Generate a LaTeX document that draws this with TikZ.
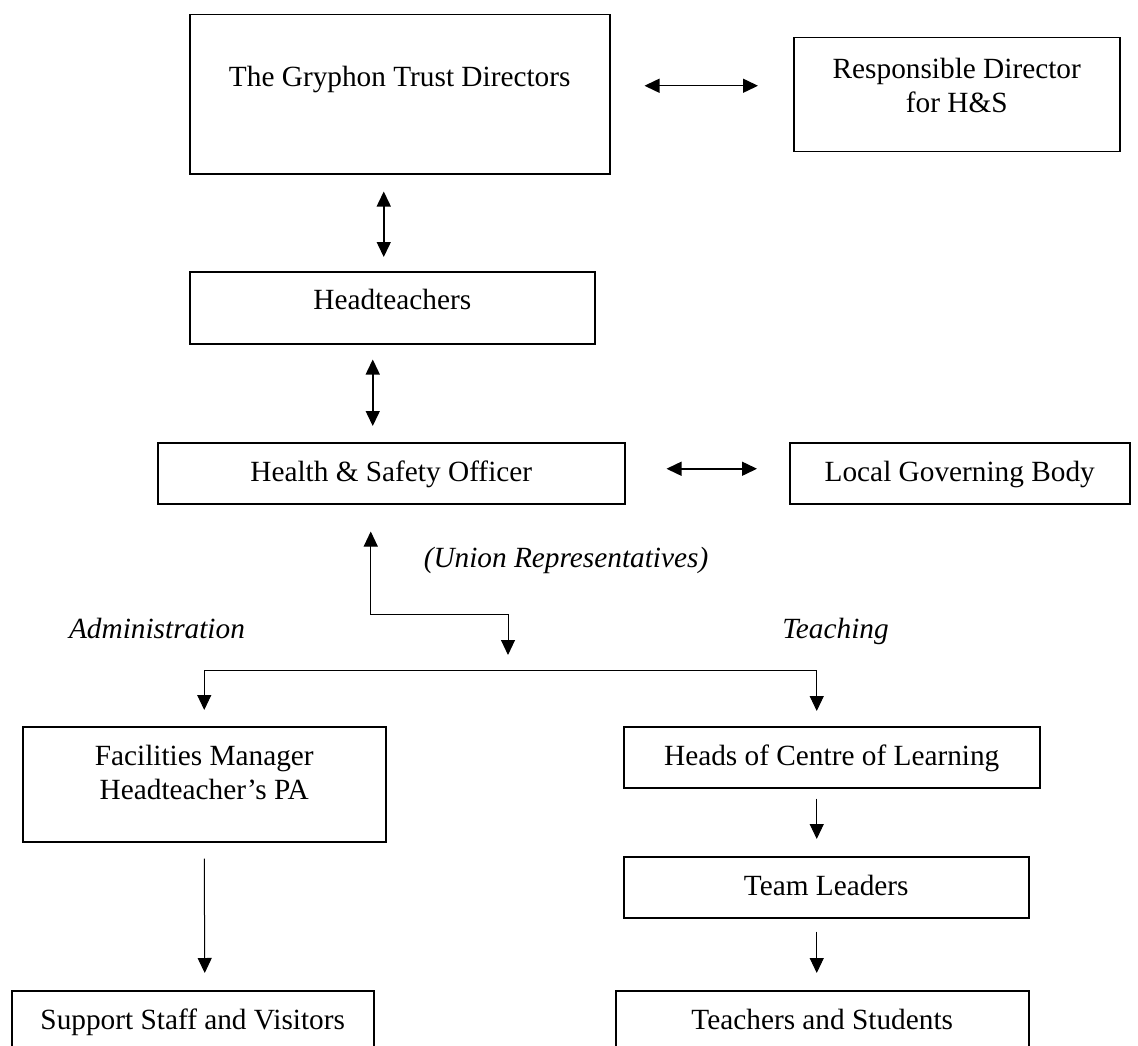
\documentclass[tikz,border=0pt]{standalone}
\usepackage{fontspec}
\setmainfont{Liberation Serif}
\usetikzlibrary{arrows.meta}
\newcommand\diagfont{\fontsize{29.3pt}{33.7pt}\selectfont}
\tikzset{
  box/.style={draw, line width=1.5pt, inner sep=0pt, anchor=north west, align=center, font=\diagfont},
  lab/.style={inner sep=0pt, font=\diagfont\itshape},
  tip/.tip={Triangle[length=15pt,width=14pt]},
  dbl/.style={line width=1.5pt, tip-tip},
  conn/.style={line width=1pt, -tip},
  dconn/.style={line width=1pt, tip-tip}
}
\begin{document}
\begin{tikzpicture}[x=1pt,y=-1pt]
\useasboundingbox (0,0) rectangle (1138,1046);
% boxes
\node[box, minimum width=420pt, text height=72pt, text depth=87pt] (gry) at (189,14) {The Gryphon Trust Directors};
\node[box, minimum width=326pt, text height=74.7pt, text depth=39.3pt] (resp) at (793,37) {Responsible Director\\for H\&S};
\node[box, minimum width=405pt, text height=38pt, text depth=34pt] (head) at (189,271) {Headteachers};
\node[box, minimum width=467pt, text height=39pt, text depth=22pt] (hs) at (157,442) {Health \& Safety Officer};
\node[box, minimum width=340pt, text height=39pt, text depth=22pt] (lgb) at (789,442) {Local Governing Body};
\node[box, minimum width=363pt, text height=72.7pt, text depth=42.3pt] (fac) at (22,726) {Facilities Manager\\Headteacher’s PA};
\node[box, minimum width=416pt, text height=39pt, text depth=22pt] (heads) at (623,726) {Heads of Centre of Learning};
\node[box, minimum width=405pt, text height=39pt, text depth=22pt] (team) at (623,856) {Team Leaders};
\node[box, minimum width=413pt, text height=39pt, text depth=17pt] (teach) at (615,990) {Teachers and Students};
\node[box, minimum width=362pt, text height=39pt, text depth=17pt] (sup) at (11,990) {Support Staff and Visitors};
% labels
\node[lab, anchor=base] (union) at (566,567) {(Union Representatives)};
\node[lab, anchor=base] (admin) at (157,638) {Administration};
\node[lab, anchor=base] (teachlab) at (835.5,638) {Teaching};
% connectors
\draw[dbl] ([xshift=34pt,yshift=8.5pt]gry.east) -- ([xshift=-35pt,yshift=9pt]resp.west);
\draw[dbl] ([xshift=-16pt,yshift=-17pt]gry.south) -- ([xshift=-8.5pt,yshift=14pt]head.north);
\draw[dbl] ([xshift=-19.5pt,yshift=-15pt]head.south) -- ([xshift=-18.5pt,yshift=16pt]hs.north);
\draw[dbl] ([xshift=41pt,yshift=4.5pt]hs.east) -- ([xshift=-32pt,yshift=4.5pt]lgb.west);
\coordinate (jtip) at (508,655);
\draw[dconn] ([xshift=-20.5pt,yshift=-27pt]hs.south) |- ([yshift=41pt]jtip) -- (jtip);
\draw[dconn] ([yshift=16pt]fac.north) -- ++(0,-40) -| ([xshift=-15pt,yshift=15pt]heads.north);
\draw[conn] ([xshift=-15pt,yshift=-10pt]heads.south) -- ([xshift=-9.5pt,yshift=17pt]team.north);
\draw[conn] ([xshift=-9.5pt,yshift=-13pt]team.south) -- ([xshift=-5.5pt,yshift=17pt]teach.north);
\draw[conn] ([yshift=-16pt]fac.south) -- ([xshift=12pt,yshift=17pt]sup.north);
\end{tikzpicture}
\end{document}
